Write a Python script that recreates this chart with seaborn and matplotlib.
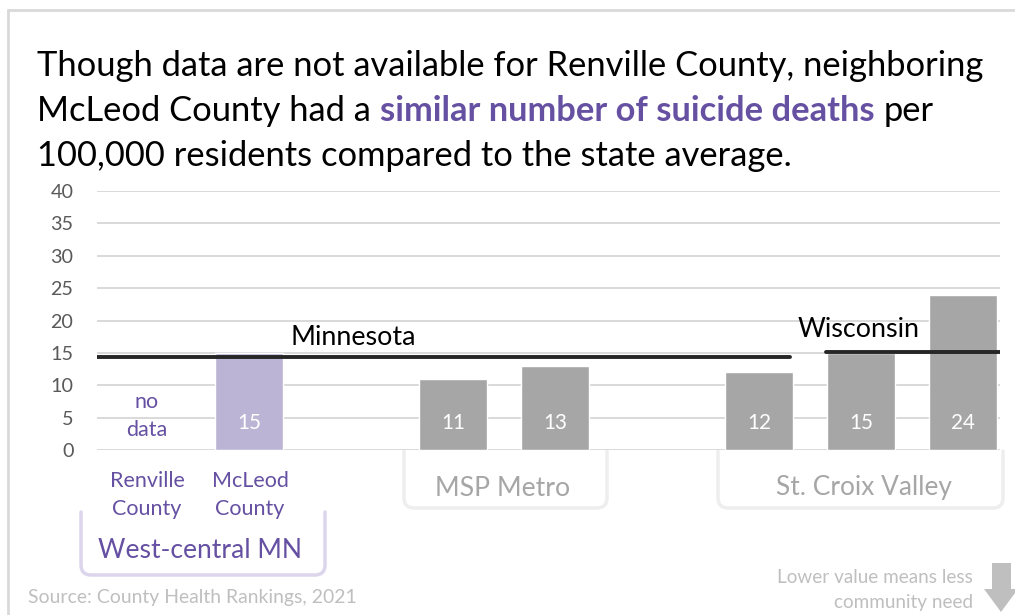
import numpy as np
import pandas as pd
import matplotlib
matplotlib.use('Agg')
import matplotlib.pyplot as plt
import seaborn as sns
from matplotlib.path import Path
from matplotlib.patches import PathPatch, Polygon

# Données (taux de suicide pour 100 000 habitants)
slots = ['Renville County', 'McLeod County', 'gap1', 'MSP A', 'MSP B', 'gap2', 'SCV A', 'SCV B', 'SCV C']
values = [np.nan, 15, np.nan, 11, 13, np.nan, 12, 15, 24]
bar_colors = ['#b9aedb', '#b9aedb', '#a6a6a6', '#a6a6a6', '#a6a6a6', '#a6a6a6', '#a6a6a6', '#a6a6a6', '#a6a6a6']
county_labels = ['Renville\nCounty', 'McLeod\nCounty']
group_names = ['West-central MN', 'MSP Metro', 'St. Croix Valley']
mn_rate = 14.3
wi_rate = 15.1
yticks = [0, 5, 10, 15, 20, 25, 30, 35, 40]

PURPLE = '#6550a2'
LIGHTGRAY = '#bfbfbf'

sns.set_theme(style='white')
plt.rcParams['font.family'] = ['Lato', 'DejaVu Sans']

df = pd.DataFrame({'slot': slots, 'value': values})

fig = plt.figure(figsize=(10.15, 6.15), dpi=100)
ov = fig.add_axes([0, 0, 1, 1])
ov.set_xlim(0, 1015)
ov.set_ylim(615, 0)
ov.axis('off')
renderer = fig.canvas.get_renderer()


def width_px(t):
    return t.get_window_extent(renderer).width


def size_for(txt, target, weight='normal'):
    t = ov.text(0, 0, txt, fontsize=20, fontweight=weight)
    s = 20 * target / width_px(t)
    t.remove()
    return s


def fit(t, target):
    t.set_fontsize(t.get_fontsize() * target / width_px(t))
    return t


fs_tick = size_for('40', 23)
fs_val = size_for('15', 24)
fs_cat = size_for('Renville', 75)
fs_state = size_for('Minnesota', 126)

ax = fig.add_axes([97 / 1015, 165 / 615, 903 / 1015, 259 / 615])
ax.set_facecolor('none')
sns.barplot(data=df, x='slot', y='value', hue='slot', palette=bar_colors,
            order=slots, legend=False, width=0.667, ax=ax, zorder=2)
ax.set_xlim(-0.49, 8.36)
ax.set_ylim(0, 40)
ax.set_yticks(yticks)
ax.set_yticklabels([str(v) for v in yticks], color='#595959', fontsize=fs_tick)
ax.tick_params(axis='y', length=0, pad=17)
ax.set_xticks([])
ax.set_xlabel('')
ax.set_ylabel('')
ax.grid(axis='y', color='#d9d9d9', linewidth=1.4, zorder=0)
for s in ax.spines.values():
    s.set_visible(False)

# Valeurs dans les barres
for i, v in enumerate(values):
    if not np.isnan(v):
        ax.text(i, 4.2, f'{v:.0f}', ha='center', va='center', color='white', fontsize=fs_val)
ax.text(0, 5.2, 'no\ndata', ha='center', va='center', color=PURPLE, fontsize=fs_cat,
        linespacing=1.5)

# Moyennes des États
ax.plot([-0.49, 6.3], [mn_rate, mn_rate], color='#262626', linewidth=2.8, zorder=3)
ax.plot([6.65, 8.36], [wi_rate, wi_rate], color='#262626', linewidth=2.8, zorder=3)
ax.text(2.02, 17.3, 'Minnesota', ha='center', va='center', color='black', fontsize=fs_state)
ax.text(6.97, 18.6, 'Wisconsin', ha='center', va='center', color='black', fontsize=fs_state)

# Étiquettes des comtés
for i, lab in enumerate(county_labels):
    ov.text(147 + 103 * i, 495, lab, ha='center', va='center', color=PURPLE,
            fontsize=fs_cat, linespacing=1.5)


def bracket(x0, x1, y0, y1, color, r=10):
    verts = [(x0, y0), (x0, y1 - r), (x0, y1), (x0 + r, y1), (x1 - r, y1),
             (x1, y1), (x1, y1 - r), (x1, y0)]
    codes = [Path.MOVETO, Path.LINETO, Path.CURVE3, Path.CURVE3, Path.LINETO,
             Path.CURVE3, Path.CURVE3, Path.LINETO]
    ov.add_patch(PathPatch(Path(verts, codes), facecolor='none', edgecolor=color,
                           linewidth=2.5, capstyle='round'))


# Groupes
bracket(81, 325, 512, 575, '#dcd6ec')
bracket(404, 607, 451, 508, '#eeeeee')
bracket(718, 1003, 451, 508, '#eeeeee')
fit(ov.text(200, 551, group_names[0], ha='center', va='center', color=PURPLE, fontsize=17), 204)
fit(ov.text(503, 489, group_names[1], ha='center', va='center', color='#a6a6a6', fontsize=17), 135)
fit(ov.text(864, 487, group_names[2], ha='center', va='center', color='#a6a6a6', fontsize=17), 176)

# Titre
line1 = 'Though data are not available for Renville County, neighboring'
t1 = fit(ov.text(37, 76, line1, va='baseline', color='black', fontsize=24), 948)
fs = t1.get_fontsize()
sp_a = ov.text(0, 0, 'n n', fontsize=fs)
sp_b = ov.text(0, 0, 'nn', fontsize=fs)
space = width_px(sp_a) - width_px(sp_b)
sp_a.remove()
sp_b.remove()

x = 37
pieces = [('McLeod County had a', 'black', 'normal'),
          ('similar number of suicide deaths', PURPLE, 'bold'),
          ('per', 'black', 'normal')]
for txt, col, wt in pieces:
    t = ov.text(x, 121, txt, va='baseline', color=col, fontweight=wt, fontsize=fs)
    x += width_px(t) + space
ov.text(37, 166, '100,000 residents compared to the state average.', va='baseline',
        color='black', fontsize=fs)

# Source et note
fit(ov.text(28, 597, 'Source: County Health Rankings, 2021', va='center',
            color=LIGHTGRAY, fontsize=12), 327)
fs_note = size_for('Lower value means less', 196)
ov.text(973, 590, 'Lower value means less\ncommunity need', ha='right', va='center',
        color=LIGHTGRAY, fontsize=fs_note, multialignment='right', linespacing=1.6)

# Flèche
ov.add_patch(Polygon([(992, 563), (1011, 563), (1011, 589), (1018, 589), (1001, 612),
                      (984, 589), (992, 589)], closed=True, facecolor=LIGHTGRAY,
                     edgecolor='none'))

# Cadre
ov.plot([8, 8], [10, 615], color='#d9d9d9', linewidth=2)
ov.plot([8, 1015], [10, 10], color='#d9d9d9', linewidth=2)

fig.savefig('out.png', dpi=100)
